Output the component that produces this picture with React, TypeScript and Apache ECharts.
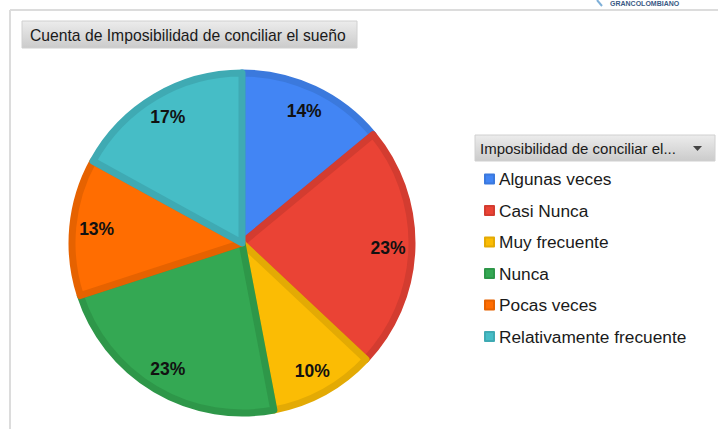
import React, { useEffect, useRef } from "react";
import * as echarts from "echarts";

const categories = [
  "Algunas veces",
  "Casi Nunca",
  "Muy frecuente",
  "Nunca",
  "Pocas veces",
  "Relativamente frecuente",
];
const values = [14, 23, 10, 23, 13, 17];
const colors = ["#4285F4", "#EA4335", "#FBBC04", "#34A853", "#FF6D01", "#46BDC6"];
const borderColors = ["#3B79DD", "#D33C30", "#E3AA04", "#2E9749", "#E66200", "#3FAAB3"];

const titleText = "Cuenta de Imposibilidad de conciliar el sueño";
const legendHeader = "Imposibilidad de conciliar el...";
const logoText = "GRANCOLOMBIANO";

const btnFont = "'Liberation Sans', Arial, sans-serif";

export default function App() {
  const ref = useRef<HTMLDivElement>(null);
  useEffect(() => {
    if (!ref.current) return;
    const chart = echarts.init(ref.current, null, { renderer: "svg" });
    const grad = () =>
      new echarts.graphic.LinearGradient(0, 0, 0, 1, [
        { offset: 0, color: "#ececec" },
        { offset: 1, color: "#cbcbcb" },
      ]);
    const data = categories.map((name, i) => ({
      name,
      value: values[i],
      itemStyle: { color: colors[i], borderColor: borderColors[i], borderWidth: 7 },
    }));
    const labelData = categories.map((name, i) => ({ name, value: values[i] }));
    chart.setOption({
      animation: false,
      backgroundColor: "#ffffff",
      legend: {
        orient: "vertical",
        left: 484,
        top: 169,
        padding: 0,
        icon: "rect",
        itemWidth: 9,
        itemHeight: 9,
        itemGap: 11.5,
        selectedMode: false,
        data: categories,
        textStyle: {
          fontFamily: "'Liberation Sans', Arial, sans-serif",
          fontSize: 17.3,
          lineHeight: 20,
          color: "#1a1a1a",
        },
      },
      series: [
        {
          type: "pie",
          center: [242, 243],
          radius: [0, 170],
          startAngle: 90,
          clockwise: true,
          silent: true,
          label: { show: false },
          labelLine: { show: false },
          data,
        },
        {
          type: "pie",
          center: [242, 243],
          radius: [116, 170],
          startAngle: 90,
          clockwise: true,
          silent: true,
          legendHoverLink: false,
          itemStyle: { color: "rgba(0,0,0,0)", borderWidth: 0 },
          label: {
            show: true,
            position: "inside",
            formatter: (p: any) => Math.round(p.percent) + "%",
            fontFamily: "'Liberation Sans', Arial, sans-serif",
            fontWeight: "bold",
            fontSize: 17.5,
            color: "#111111",
          },
          labelLine: { show: false },
          data: labelData,
        },
      ],
      graphic: [
        {
          type: "line",
          shape: { x1: 10, y1: 10, x2: 718, y2: 10 },
          style: { stroke: "#dcdcdc", lineWidth: 2 },
        },
        {
          type: "line",
          shape: { x1: 10, y1: 10, x2: 10, y2: 429 },
          style: { stroke: "#dcdcdc", lineWidth: 2 },
        },
        {
          type: "line",
          shape: { x1: 597, y1: 0, x2: 602, y2: 6 },
          style: { stroke: "#7fb0d8", lineWidth: 2 },
        },
        {
          type: "text",
          x: 610,
          y: 0,
          style: {
            text: logoText,
            fontSize: 7,
            fontWeight: "bold",
            fill: "#3a5a85",
            fontFamily: "'Liberation Sans', Arial, sans-serif",
          },
        },
        {
          type: "rect",
          shape: { x: 22, y: 21, width: 335, height: 27 },
          style: { fill: grad(), stroke: "#d0d0d0", lineWidth: 1 },
        },
        {
          type: "text",
          x: 30,
          y: 35,
          style: {
            text: titleText,
            fontSize: 15.7,
            fontFamily: btnFont,
            fill: "#1a1a1a",
            verticalAlign: "middle",
          },
        },
        {
          type: "rect",
          shape: { x: 475, y: 135, width: 240, height: 26 },
          style: { fill: grad(), stroke: "#d0d0d0", lineWidth: 1 },
        },
        {
          type: "text",
          x: 480,
          y: 148,
          style: {
            text: legendHeader,
            fontSize: 15,
            fontFamily: btnFont,
            fill: "#1a1a1a",
            verticalAlign: "middle",
          },
        },
        {
          type: "polygon",
          shape: { points: [[693, 146], [702, 146], [697.5, 151]] },
          style: { fill: "#444444" },
        },
      ],
    });
    return () => chart.dispose();
  }, []);
  return (
    <div
      ref={ref}
      style={{ position: "fixed", left: 0, top: 0, width: 718, height: 429 }}
    />
  );
}
